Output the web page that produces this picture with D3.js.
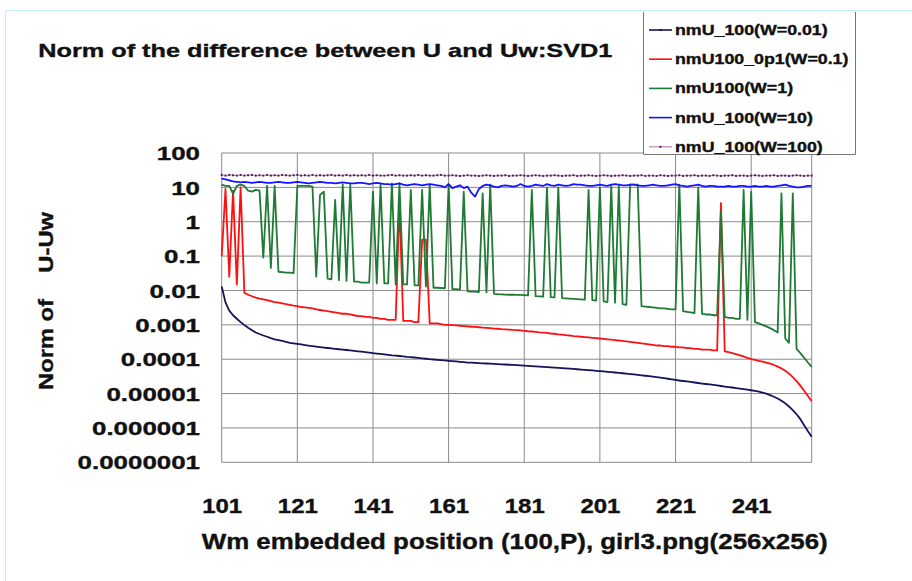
<!DOCTYPE html>
<html>
<head>
<meta charset="utf-8">
<script src="https://cdn.jsdelivr.net/npm/d3@7"></script>
<style>
  html, body { margin: 0; padding: 0; background: #fff; }
  svg { display: block; font-family: "Liberation Sans", Arial, sans-serif; font-weight: bold; }
  svg text { stroke: #111; stroke-width: 0.35px; }
</style>
</head>
<body>
<svg id="chart" width="912" height="581"></svg>
<script>
// embedded position P (x axis categories)
const positions = d3.range(101, 258);
const xTicks = [101, 121, 141, 161, 181, 201, 221, 241];
const yTicks = [100, 10, 1, 0.1, 0.01, 0.001, 0.0001, 0.00001, 0.000001, 0.0000001];
const yTickLabels = ['100', '10', '1', '0.1', '0.01', '0.001', '0.0001', '0.00001', '0.000001', '0.0000001'];

const seriesNames = ['nmU_100(W=0.01)', 'nmU100_0p1(W=0.1)', 'nmU100(W=1)', 'nmU_100(W=10)', 'nmU_100(W=100)'];

// W=0.01
const w001 = [
  0.013, 0.0045, 0.0026, 0.0019, 0.0015, 0.0012, 0.00098, 0.00082, 0.0007, 0.0006,
  0.00054, 0.00049, 0.00045, 0.00041, 0.00038, 0.00036, 0.00034, 0.00032, 0.0003, 0.00029,
  0.00028, 0.000268, 0.000258, 0.000248, 0.00024, 0.000232, 0.000225, 0.000218, 0.000212, 0.000206,
  0.0002, 0.000195, 0.00019, 0.000185, 0.00018, 0.000175, 0.00017, 0.000165, 0.00016, 0.000155,
  0.00015, 0.000146, 0.000142, 0.000138, 0.000134, 0.00013, 0.000127, 0.000124, 0.00012, 0.000117,
  0.000115, 0.000112, 0.000109, 0.000106, 0.000103, 0.0001, 0.000098, 0.000096, 0.000094, 0.000092,
  0.00009, 0.000088, 0.000086, 0.000084, 0.000082, 0.00008, 0.000079, 0.000078, 0.000077, 0.000076,
  0.000075, 0.000074, 0.000073, 0.000072, 0.000071, 0.00007, 0.000069, 0.000068, 0.000067, 0.000066,
  0.000065, 0.000064, 0.000063, 0.000062, 0.000061, 0.00006, 0.000059, 0.000058, 0.000057, 0.000056,
  0.000055, 0.000054, 0.000053, 0.000052, 0.000051, 0.00005, 0.000049, 0.000048, 0.000047, 0.000046,
  0.000045, 0.000044, 0.000043, 0.000042, 0.000041, 0.00004, 0.000039, 0.000038, 0.000037, 0.000036,
  0.000035, 0.000034, 0.000033, 0.000032, 0.000031, 0.00003, 0.000029, 0.000028, 0.000027, 0.000026,
  0.000025, 0.000024, 0.0000232, 0.0000225, 0.0000218, 0.000021, 0.0000203, 0.0000196, 0.000019, 0.0000184,
  0.0000178, 0.0000172, 0.0000166, 0.000016, 0.0000155, 0.000015, 0.0000145, 0.000014, 0.0000135, 0.000013,
  0.0000125, 0.000012, 0.0000113, 0.0000106, 0.0000099, 0.000009, 0.0000081, 0.0000072, 0.0000062, 0.0000052,
  0.0000042, 0.0000033, 0.0000025, 0.0000018, 0.0000012, 0.0000008, 0.00000055
];

// W=0.1
const w01 = [
  0.1, 9, 0.025, 8, 0.015, 10, 0.0085, 0.0075, 0.0068, 0.0062,
  0.0058, 0.0055, 0.0052, 0.0049, 0.0046, 0.0044, 0.0042, 0.004, 0.0038, 0.0036,
  0.0035, 0.0033, 0.0032, 0.0031, 0.003, 0.0028, 0.0027, 0.0026, 0.0025, 0.0024,
  0.0023, 0.0022, 0.0021, 0.0021, 0.002, 0.0019, 0.0018, 0.0018, 0.0017, 0.0017,
  0.0016, 0.0016, 0.0015, 0.0015, 0.0014, 0.0014, 0.0014, 3.5, 0.0013, 0.0013,
  0.0013, 0.0012, 0.0012, 0.3, 0.3, 0.0011, 0.0011, 0.0011, 0.00105, 0.001,
  0.001, 0.00098, 0.00096, 0.00094, 0.00092, 0.0009, 0.00088, 0.00087, 0.00085, 0.00083,
  0.00082, 0.0008, 0.00078, 0.00077, 0.00075, 0.00074, 0.00073, 0.00071, 0.0007, 0.00069,
  0.00067, 0.00065, 0.00064, 0.00062, 0.0006, 0.00059, 0.00058, 0.00056, 0.00055, 0.00053,
  0.00052, 0.0005, 0.00049, 0.00047, 0.00046, 0.00045, 0.00044, 0.00043, 0.00042, 0.00041,
  0.0004, 0.00039, 0.00038, 0.00037, 0.00036, 0.00035, 0.00034, 0.00033, 0.00032, 0.00031,
  0.0003, 0.00029, 0.00028, 0.00027, 0.00026, 0.00025, 0.00025, 0.00024, 0.00024, 0.00023,
  0.00023, 0.00022, 0.00022, 0.00021, 0.00021, 0.0002, 0.0002, 0.00019, 0.00019, 0.00019,
  0.00018, 0.00018, 3.5, 0.00017, 0.00016, 0.00015, 0.00014, 0.00013, 0.00012, 0.00011,
  0.0001, 0.000095, 0.00009, 0.000085, 0.00008, 0.000074, 0.000068, 0.000061, 0.000054, 0.000046,
  0.000038, 0.00003, 0.000023, 0.000017, 0.000012, 0.0000085, 0.000006
];

// W=1
const w1 = [
  12, 11, 11, 6.5, 11, 12, 11, 8, 7.5, 8.5,
  8, 0.09, 11, 0.045, 11, 0.035, 0.034, 0.033, 0.033, 0.032,
  11, 11, 11, 11, 10.5, 0.025, 6, 7.5, 0.022, 0.021,
  4.3, 0.02, 12, 0.019, 12, 0.018, 0.018, 0.017, 0.017, 0.017,
  7.5, 0.016, 12, 0.016, 0.016, 13, 0.015, 13, 0.015, 0.015,
  8.4, 0.014, 0.014, 8.4, 0.013, 12, 0.012, 0.012, 0.0118, 0.0116,
  12, 0.011, 0.011, 0.0105, 7.5, 0.0095, 0.0093, 0.0092, 0.009, 6.7,
  0.0088, 12, 0.008, 0.0078, 0.0077, 0.0076, 0.0075, 0.0075, 0.0074, 0.0074,
  0.0073, 0.0072, 8.4, 0.0068, 0.0067, 0.0066, 10, 0.0064, 0.0063, 10,
  0.006, 0.0059, 0.0058, 0.0057, 0.0056, 0.0055, 0.0054, 8.4, 0.0052, 0.0051,
  10, 0.0048, 0.0046, 11, 0.0044, 11, 0.004, 0.0038, 12, 12,
  12, 0.0035, 0.0034, 0.0033, 0.0032, 0.0031, 0.003, 0.003, 0.0029, 0.0028,
  0.0028, 12, 0.0025, 0.0024, 0.0023, 0.0022, 10, 0.0021, 0.002, 0.002,
  0.0019, 0.0019, 2, 0.0017, 0.0016, 0.0016, 0.0015, 0.0015, 8.4, 0.0014,
  7.5, 0.0012, 0.0011, 0.001, 0.0009, 0.0008, 0.0007, 0.0006, 6.7, 0.0004,
  0.0003, 6.7, 0.0002, 0.00015, 0.00011, 0.00008, 0.00006
];

// W=10
const w10 = [
  18, 17, 16, 15, 14.5, 14, 14.5, 14, 13.5, 14,
  14.5, 14, 13.5, 13.5, 14, 14.5, 14, 13.5, 13.5, 14,
  14.5, 14, 13.5, 13, 13.5, 14, 14.5, 14, 13.5, 13.5,
  13, 13.5, 14, 13.5, 13, 13, 13.5, 13.5, 13, 12.5,
  13, 13.5, 13, 12.5, 12.5, 12, 12.5, 13, 12, 11.5,
  12, 12.5, 12, 11.5, 12, 12.5, 12, 11.5, 11, 10,
  12.5, 9.5, 10.5, 11.5, 9.5, 10.5, 7, 5.4, 9, 11,
  12, 11.5, 10.5, 10, 11, 11.5, 11, 10.5, 11, 12.5,
  11, 10.5, 11, 12, 11.5, 11, 12.5, 11.5, 11, 12,
  11.5, 11, 11.5, 12.5, 12, 12, 11.5, 11, 11, 11.5,
  12, 11.5, 11, 12, 12.5, 12, 11.5, 11.5, 12, 12,
  11.5, 11, 11, 11.5, 12, 11.5, 11, 11, 11.5, 12,
  12.5, 11.5, 11, 10.5, 11, 11.5, 12, 11, 10.5, 11,
  11, 10.5, 10.5, 10.5, 11, 10.5, 10.5, 11, 11, 10.5,
  10.5, 11, 10.5, 10.5, 11, 10.5, 10.5, 11, 11.5, 12,
  11, 10.5, 10, 10, 10.5, 11, 11
];

// W=100
const w100 = [
  23, 22, 23, 22.5, 22, 23, 22, 22.5, 23, 22,
  22.5, 22, 23, 22, 22.5, 22, 23, 22.5, 22, 22.5,
  23, 22, 22.5, 22, 23, 22, 22.5, 22, 22.5, 23,
  22, 22.5, 22, 23, 22, 22.5, 22, 22.5, 22, 23,
  22, 22.5, 22, 22, 22.5, 23, 22, 22.5, 22, 22,
  22.5, 22, 23, 22, 22.5, 22, 22, 22.5, 23, 22,
  22, 22.5, 22, 21.5, 22, 22.5, 22, 22, 21.5, 22,
  22.5, 22, 21.5, 22, 22, 22.5, 21.5, 22, 22, 22.5,
  22, 21.5, 22, 22.5, 22, 21.5, 22, 22, 22.5, 22,
  21.5, 22, 22, 22.5, 21.5, 22, 22, 22.5, 22, 21.5,
  22, 22.5, 22, 21.5, 22, 22, 22.5, 22, 21.5, 22,
  22, 22.5, 21.5, 22, 22, 21.5, 22.5, 22, 21.5, 22,
  22, 22.5, 21.5, 22, 22, 22.5, 21.5, 22, 22, 21.5,
  22.5, 22, 21.5, 22, 22, 22.5, 21.5, 22, 22, 21.5,
  22, 22.5, 22, 21.5, 22, 22, 22.5, 21.5, 22, 22,
  21.5, 22, 22.5, 22, 21.5, 22, 22
];

const series = [w001, w01, w1, w10, w100];
const colors = ['#14145a', '#ff1010', '#1f7a34', '#1414ff', '#b88cb8'];

const svg = d3.select('#chart');
svg.append('rect').attr('width', 912).attr('height', 581).attr('fill', '#fff');

// light cyan frame of the original screenshot
svg.append('path')
  .attr('d', 'M5.5,581 V10.5 H912')
  .attr('fill', 'none')
  .attr('stroke', '#c4eef6')
  .attr('stroke-width', 1);

const x = d3.scaleLinear().domain([101, 257]).range([221.7, 811.7]);
const y = d3.scaleLog().domain([1e-7, 100]).range([462.3, 153]);

const plot = svg.append('g');

// gridlines
plot.selectAll('line.hgrid')
  .data(yTicks)
  .join('line')
  .attr('class', 'hgrid')
  .attr('x1', x(101)).attr('x2', x(257))
  .attr('y1', d => y(d)).attr('y2', d => y(d))
  .attr('stroke', '#8a8a8a').attr('stroke-width', 1);

plot.selectAll('line.vgrid')
  .data(xTicks.concat([257]))
  .join('line')
  .attr('class', 'vgrid')
  .attr('x1', d => x(d)).attr('x2', d => x(d))
  .attr('y1', y(100)).attr('y2', y(1e-7))
  .attr('stroke', '#8a8a8a').attr('stroke-width', 1);

// series lines
const line = d3.line()
  .x((d, i) => x(positions[i]))
  .y(d => y(d));

plot.selectAll('path.series')
  .data(series)
  .join('path')
  .attr('class', 'series')
  .attr('d', line)
  .attr('fill', 'none')
  .attr('stroke', (d, i) => colors[i])
  .attr('stroke-width', (d, i) => (i === 4 ? 1 : 1.8))
  .attr('stroke-linejoin', 'round');

// W=100 markers
plot.selectAll('rect.mk')
  .data(w100)
  .join('rect')
  .attr('class', 'mk')
  .attr('x', (d, i) => x(positions[i]) - 1)
  .attr('y', d => y(d) - 1)
  .attr('width', 2).attr('height', 2)
  .attr('fill', '#5a1a5a');

// y axis
const yAxis = svg.append('g')
  .attr('transform', 'translate(200,0)')
  .call(d3.axisLeft(y).tickValues(yTicks).tickFormat((d, i) => yTickLabels[i]).tickSize(0).tickPadding(0));
yAxis.select('.domain').remove();
yAxis.selectAll('text')
  .attr('x', 0)
  .attr('dy', '0.36em')
  .attr('fill', '#111')
  .style('font-size', '18.5px')
  .style('font-family', '"Liberation Sans", Arial, sans-serif')
  .style('font-weight', 'bold')
  .attr('transform', 'scale(1.4,1)');

// x axis
const xAxis = svg.append('g')
  .attr('transform', 'translate(0,512.7)')
  .call(d3.axisBottom(x).tickValues(xTicks).tickFormat(d3.format('d')).tickSize(0).tickPadding(0));
xAxis.select('.domain').remove();
xAxis.selectAll('text')
  .attr('y', 0)
  .attr('dy', 0)
  .attr('fill', '#111')
  .style('font-size', '20px')
  .style('font-family', '"Liberation Sans", Arial, sans-serif')
  .style('font-weight', 'bold')
  .attr('transform', 'scale(1.2,1)');

// titles
svg.append('text')
  .attr('x', 38.3).attr('y', 57.3)
  .attr('textLength', 574).attr('lengthAdjust', 'spacingAndGlyphs')
  .style('font-size', '18.5px')
  .attr('fill', '#111')
  .text('Norm of the difference between U and Uw:SVD1');

svg.append('text')
  .attr('x', 201.7).attr('y', 549.3)
  .attr('textLength', 626).attr('lengthAdjust', 'spacingAndGlyphs')
  .style('font-size', '22px')
  .attr('fill', '#111')
  .text('Wm embedded position (100,P), girl3.png(256x256)');

svg.append('text')
  .attr('transform', 'translate(53.3,390) rotate(-90)')
  .attr('textLength', 178).attr('lengthAdjust', 'spacingAndGlyphs')
  .style('font-size', '21px')
  .style('white-space', 'pre')
  .attr('fill', '#111')
  .text('Norm of    U-Uw');

// legend
const legend = svg.append('g');
legend.append('rect')
  .attr('x', 643.5).attr('y', 11).attr('width', 211.5).attr('height', 143)
  .attr('fill', '#fff');
legend.append('path')
  .attr('d', 'M643.5,12 V154.5 H855.5 V12')
  .attr('fill', 'none')
  .attr('stroke', '#777').attr('stroke-width', 1);

const items = legend.selectAll('g.item')
  .data(seriesNames)
  .join('g')
  .attr('class', 'item')
  .attr('transform', (d, i) => `translate(0,${35 + i * 29.2})`);

items.append('line')
  .attr('x1', 649).attr('x2', 672)
  .attr('y1', -5).attr('y2', -5)
  .attr('stroke', (d, i) => colors[i])
  .attr('stroke-width', (d, i) => (i === 4 ? 1.2 : 1.6));

items.filter((d, i) => i === 0 || i === 4)
  .append('rect')
  .attr('x', 659.5).attr('y', -6).attr('width', 2).attr('height', 2)
  .attr('fill', (d, i) => (i === 0 ? '#14145a' : '#5a1a5a'));

items.append('text')
  .attr('transform', 'translate(675,0) scale(1.27,1)')
  .style('font-size', '14px')
  .attr('fill', '#111')
  .text(d => d);
</script>
</body>
</html>
